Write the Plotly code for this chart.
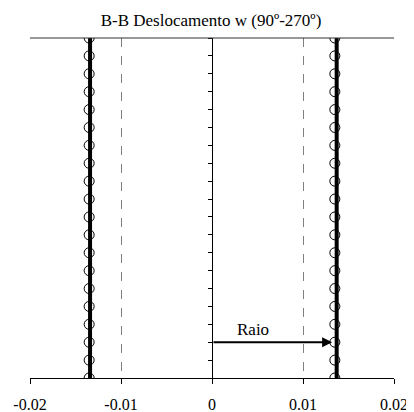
import plotly.graph_objects as go

depth = list(range(20))
circ_left = [-0.0135] * 20
circ_right = [0.0135] * 20
line_left = [-0.0134] * 20
line_right = [0.0137] * 20
x_ticks = [-0.02, -0.01, 0, 0.01, 0.02]
x_tick_text = ["-0.02", "-0.01", "0", "0.01", "0.02"]
arrow_y = 2
arrow_x = 0.0132

FONT = "Liberation Serif"

fig = go.Figure()
for xs in (line_left, line_right):
    fig.add_trace(go.Scatter(x=xs, y=depth, mode="lines",
                             line=dict(color="black", width=4), showlegend=False))
for xs in (circ_left, circ_right):
    fig.add_trace(go.Scatter(x=xs, y=depth, mode="markers",
                             marker=dict(symbol="circle-open", size=10,
                                         color="black", line=dict(width=1)),
                             showlegend=False))

fig.update_layout(
    width=406, height=404,
    margin=dict(l=22, r=20, t=30, b=34),
    paper_bgcolor="white", plot_bgcolor="white",
    font=dict(family=FONT, size=16, color="black"),
    title=dict(text="B-B Deslocamento w (90º-270º)", x=0.5, xanchor="center",
               y=1 - 12 / 404, yanchor="middle", font=dict(family=FONT, size=17)),
    xaxis=dict(range=[-0.02, 0.02], tickvals=x_ticks, ticktext=x_tick_text,
               ticks="outside", ticklen=5, tickcolor="black",
               showline=True, linecolor="black", linewidth=1,
               showgrid=True, gridcolor="#808080", griddash="dash", gridwidth=1,
               zeroline=False, automargin=False, ticklabelstandoff=7,
               tickfont=dict(family=FONT, size=16)),
    yaxis=dict(range=[0, 19], tickvals=depth, showticklabels=False,
               ticks="outside", ticklen=4, tickcolor="black",
               showline=True, linecolor="black", linewidth=1,
               anchor="free", position=0.5, showgrid=False, zeroline=False,
               automargin=False),
    shapes=[dict(type="line", xref="paper", yref="paper", x0=0, x1=1, y0=1, y1=1,
                 line=dict(color="#333333", width=1))],
    annotations=[
        dict(x=arrow_x, y=arrow_y, ax=0, ay=arrow_y, xref="x", yref="y",
             axref="x", ayref="y", text="", showarrow=True,
             arrowhead=2, arrowsize=1, arrowwidth=2, arrowcolor="black"),
        dict(x=0.0045, y=2.7, xref="x", yref="y", text="Raio", showarrow=False,
             font=dict(family=FONT, size=17)),
    ],
)

fig.write_html("out.html")
